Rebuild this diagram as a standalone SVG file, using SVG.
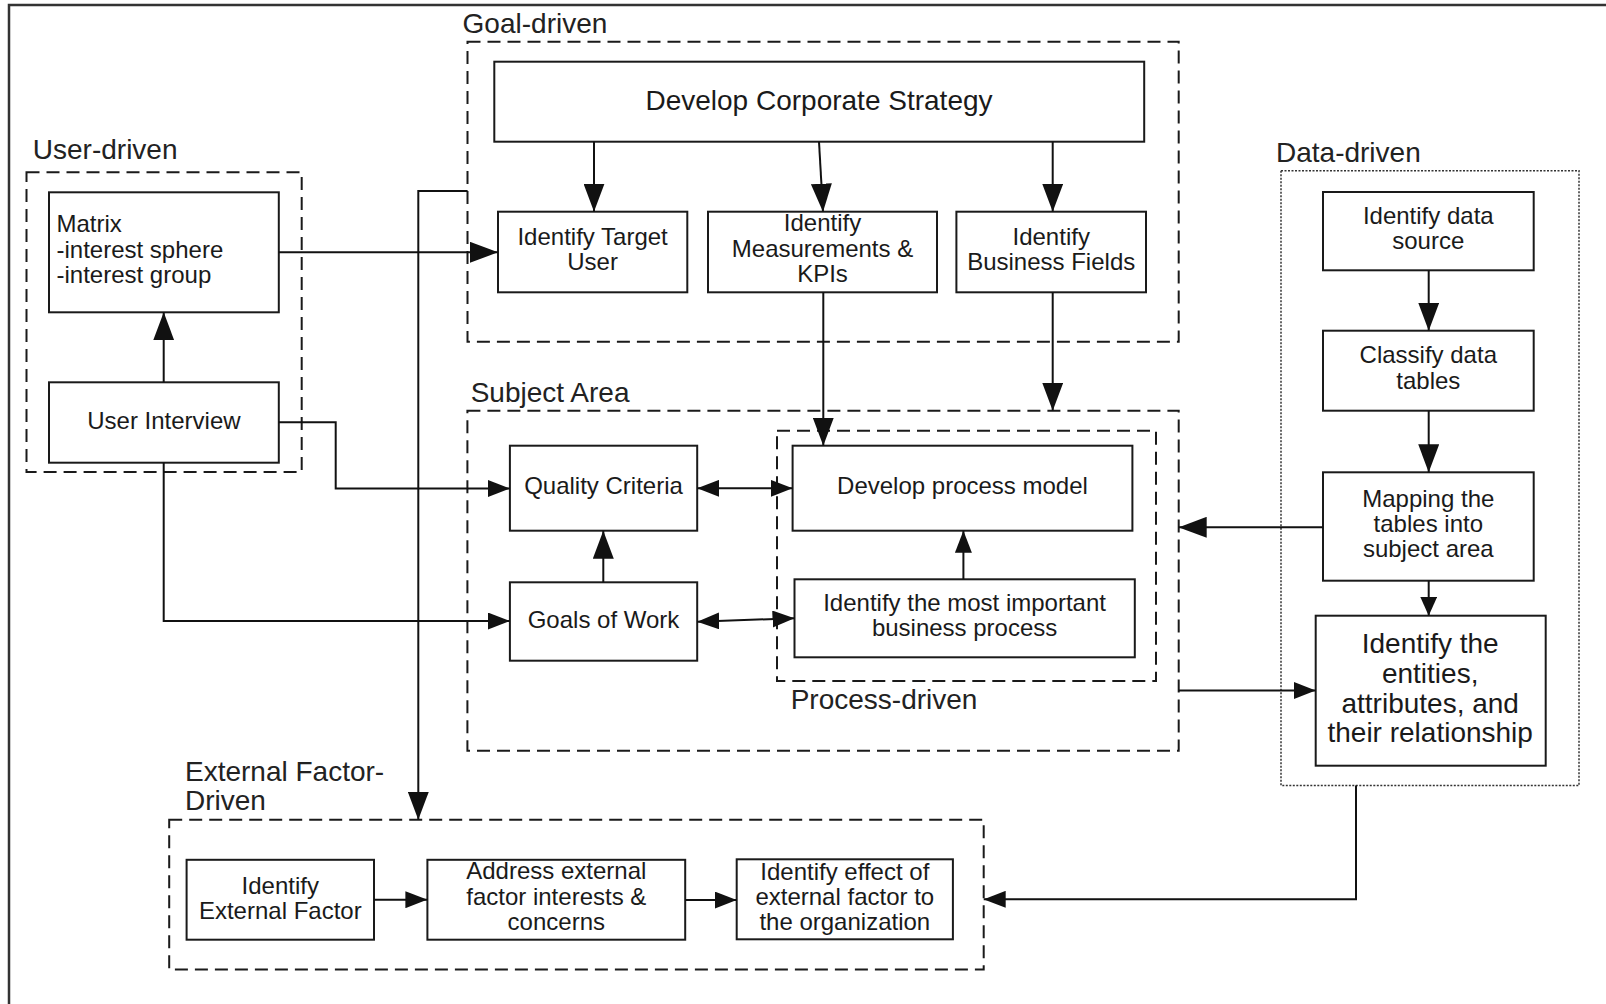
<svg xmlns="http://www.w3.org/2000/svg" width="1606" height="1004" viewBox="0 0 1606 1004">
<style>
  .frame{fill:none;stroke:#333;stroke-width:2.5}
  .box{fill:#fff;stroke:#1a1a1a;stroke-width:2}
  .dash{fill:none;stroke:#1a1a1a;stroke-width:2;stroke-dasharray:13 7}
  .dot{fill:none;stroke:#333;stroke-width:1.5;stroke-dasharray:2 1.5}
  .t{font-family:"Liberation Sans",Arial,sans-serif;font-size:24px;fill:#1a1a1a;text-anchor:middle}
  .tl{font-family:"Liberation Sans",Arial,sans-serif;font-size:24px;fill:#1a1a1a}
  .big{font-size:28px}
  .h{font-family:"Liberation Sans",Arial,sans-serif;font-size:28px;fill:#222}
  .c{fill:none;stroke:#111;stroke-width:2}
  .lg{marker-end:url(#lg)}
  .md{marker-end:url(#md)}
  .sm{marker-end:url(#sm)}
  .mdb{marker-start:url(#md);marker-end:url(#md)}
</style>
<defs>
  <marker id="lg" viewBox="0 0 28 21" refX="28" refY="10.5" markerWidth="28" markerHeight="21" orient="auto-start-reverse" markerUnits="userSpaceOnUse"><path d="M0,0 L28,10.5 L0,21 z" fill="#111"/></marker>
  <marker id="md" viewBox="0 0 22 17" refX="22" refY="8.5" markerWidth="22" markerHeight="17" orient="auto-start-reverse" markerUnits="userSpaceOnUse"><path d="M0,0 L22,8.5 L0,17 z" fill="#111"/></marker>
  <marker id="sm" viewBox="0 0 19 17" refX="19" refY="8.5" markerWidth="19" markerHeight="17" orient="auto-start-reverse" markerUnits="userSpaceOnUse"><path d="M0,0 L19,8.5 L0,17 z" fill="#111"/></marker>
</defs>
<rect width="1606" height="1004" fill="#fff"/>
<rect class="frame" x="9" y="5" width="1640" height="1040"/>

<g id="user-driven">
  <text class="h" x="32.8" y="159">User-driven</text>
  <rect class="dash" x="26.5" y="172.3" width="275.2" height="299.7"/>
</g>
<g id="matrix">
  <rect class="box" x="49" y="192.3" width="229.8" height="120"/>
  <text class="tl" x="56.5" y="232.3">Matrix</text>
  <text class="tl" x="56.5" y="257.8">-interest sphere</text>
  <text class="tl" x="56.5" y="283.3">-interest group</text>
</g>
<g id="user-interview">
  <rect class="box" x="49" y="382.3" width="229.8" height="80.4"/>
  <text class="t" x="163.9" y="428.8">User Interview</text>
</g>

<g id="goal-driven">
  <text class="h" x="462.6" y="33.3">Goal-driven</text>
  <rect class="dash" x="467.5" y="41.7" width="711.2" height="300"/>
</g>
<g id="develop-corporate-strategy">
  <rect class="box" x="494.3" y="61.7" width="649.9" height="80"/>
  <text class="t big" x="819" y="110">Develop Corporate Strategy</text>
</g>
<g id="identify-target-user">
  <rect class="box" x="498" y="211.7" width="189.3" height="80.6"/>
  <text class="t" x="592.6" y="245">Identify Target</text>
  <text class="t" x="592.6" y="269.5">User</text>
</g>
<g id="identify-measurements">
  <rect class="box" x="708" y="211.7" width="229" height="80.6"/>
  <text class="t" x="822.5" y="231">Identify</text>
  <text class="t" x="822.5" y="256.5">Measurements &amp;</text>
  <text class="t" x="822.5" y="281.7">KPIs</text>
</g>
<g id="identify-business-fields">
  <rect class="box" x="956.4" y="211.7" width="189.6" height="80.6"/>
  <text class="t" x="1051.2" y="245">Identify</text>
  <text class="t" x="1051.2" y="269.5">Business Fields</text>
</g>

<g id="subject-area">
  <text class="h" x="470.7" y="402.3">Subject Area</text>
  <rect class="dash" x="467.4" y="410.7" width="711.3" height="340"/>
</g>
<g id="quality-criteria">
  <rect class="box" x="509.9" y="445.7" width="187.3" height="85"/>
  <text class="t" x="603.5" y="494">Quality Criteria</text>
</g>
<g id="goals-of-work">
  <rect class="box" x="509.9" y="582.3" width="187.3" height="78.4"/>
  <text class="t" x="603.5" y="627.5">Goals of Work</text>
</g>
<g id="process-driven">
  <rect class="dash" x="777" y="430.7" width="379" height="250.3"/>
  <text class="h" x="790.7" y="709">Process-driven</text>
</g>
<g id="develop-process-model">
  <rect class="box" x="792.6" y="445.7" width="339.8" height="85"/>
  <text class="t" x="962.5" y="494">Develop process model</text>
</g>
<g id="identify-business-process">
  <rect class="box" x="794.5" y="579.3" width="340.3" height="78"/>
  <text class="t" x="964.6" y="610.7">Identify the most important</text>
  <text class="t" x="964.6" y="635.7">business process</text>
</g>

<g id="data-driven">
  <text class="h" x="1276" y="162.3">Data-driven</text>
  <rect class="dot" x="1281" y="170.7" width="298" height="614.8"/>
</g>
<g id="identify-data-source">
  <rect class="box" x="1323" y="192" width="210.7" height="78.3"/>
  <text class="t" x="1428.3" y="224.3">Identify data</text>
  <text class="t" x="1428.3" y="249">source</text>
</g>
<g id="classify-data-tables">
  <rect class="box" x="1323" y="330.7" width="210.7" height="80"/>
  <text class="t" x="1428.3" y="363.3">Classify data</text>
  <text class="t" x="1428.3" y="388.7">tables</text>
</g>
<g id="mapping-tables">
  <rect class="box" x="1323" y="472.3" width="210.7" height="108.4"/>
  <text class="t" x="1428.3" y="506.7">Mapping the</text>
  <text class="t" x="1428.3" y="531.7">tables into</text>
  <text class="t" x="1428.3" y="556.7">subject area</text>
</g>
<g id="identify-entities">
  <rect class="box" x="1315.7" y="615.7" width="230" height="150"/>
  <text class="t big" x="1430.2" y="653.3">Identify the</text>
  <text class="t big" x="1430.2" y="683">entities,</text>
  <text class="t big" x="1430.2" y="712.7">attributes, and</text>
  <text class="t big" x="1430.2" y="742.3">their relationship</text>
</g>

<g id="external-factor-driven">
  <text class="h" x="185" y="781.3">External Factor-</text>
  <text class="h" x="185" y="810">Driven</text>
  <rect class="dash" x="169.2" y="819.8" width="814.5" height="149.7"/>
</g>
<g id="identify-external-factor">
  <rect class="box" x="186.6" y="859.8" width="187.4" height="79.9"/>
  <text class="t" x="280.3" y="893.6">Identify</text>
  <text class="t" x="280.3" y="918.8">External Factor</text>
</g>
<g id="address-external-factor">
  <rect class="box" x="427.4" y="859.8" width="257.8" height="79.9"/>
  <text class="t" x="556.3" y="879.2">Address external</text>
  <text class="t" x="556.3" y="905">factor interests &amp;</text>
  <text class="t" x="556.3" y="930.3">concerns</text>
</g>
<g id="identify-effect">
  <rect class="box" x="736.7" y="859.3" width="216.2" height="80"/>
  <text class="t" x="844.8" y="880">Identify effect of</text>
  <text class="t" x="844.8" y="905">external factor to</text>
  <text class="t" x="844.8" y="930">the organization</text>
</g>

<g id="connectors">
  <path class="c lg" d="M594,141.7 V211.7"/>
  <path class="c lg" d="M819,141.7 L823,211.7"/>
  <path class="c lg" d="M1052.7,141.7 V211.7"/>
  <path class="c lg" d="M278.8,252.3 H498"/>
  <path class="c lg" d="M163.7,382.3 V312.3"/>
  <path class="c lg" d="M467.6,191 H418.3 V819.8"/>
  <path class="c md" d="M278.8,422.3 H335.7 V488.5 H509.9"/>
  <path class="c md" d="M163.7,462.7 V621 H509.9"/>
  <path class="c lg" d="M603.3,582.3 V530.7"/>
  <path class="c mdb" d="M697.2,488.3 H792.6"/>
  <path class="c mdb" d="M697.2,621.7 L794.5,618.3"/>
  <path class="c md" d="M963.4,579.3 V530.7"/>
  <path class="c lg" d="M823.3,292.3 V445.7"/>
  <path class="c lg" d="M1052.7,292.3 V410.7"/>
  <path class="c lg" d="M1428.7,270.3 V330.7"/>
  <path class="c lg" d="M1428.7,410.7 V472.3"/>
  <path class="c sm" d="M1428.7,580.7 V615.7"/>
  <path class="c lg" d="M1323,527.3 H1178.7"/>
  <path class="c md" d="M1178.7,690.5 H1315.7"/>
  <path class="c md" d="M1356,785.5 V899.3 H983.7"/>
  <path class="c md" d="M374,899.7 H427.4"/>
  <path class="c md" d="M685.2,900 H736.7"/>
</g>
</svg>
